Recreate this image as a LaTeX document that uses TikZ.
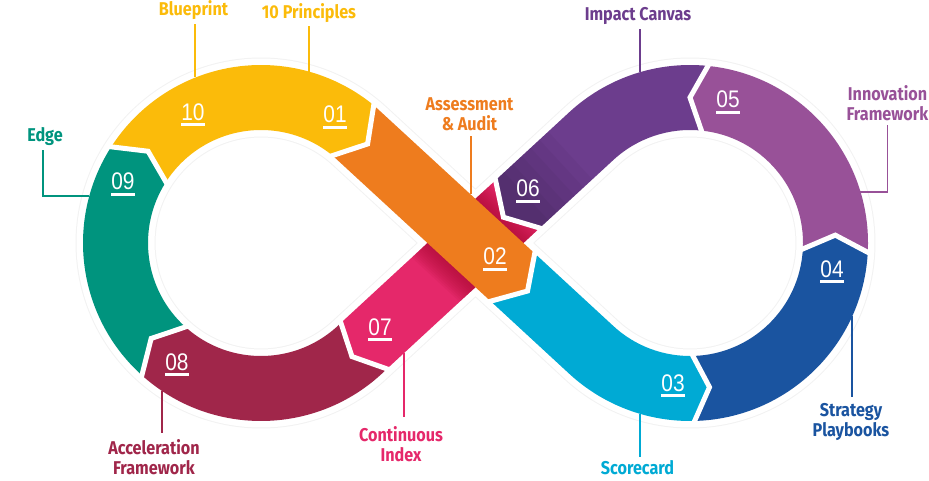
\documentclass[tikz,border=0pt]{standalone}
\usepackage{fontspec}
\setmainfont{Liberation Sans}
\newfontfamily\numfont[FakeStretch=0.87]{Liberation Sans}
\newfontfamily\lblfont[FakeStretch=0.875]{Fira Sans}
\usetikzlibrary{calc}
\definecolor{cYellow}{RGB}{251,187,10}
\definecolor{cOrange}{RGB}{238,124,30}
\definecolor{cCyan}{RGB}{0,170,212}
\definecolor{cBlue}{RGB}{26,84,160}
\definecolor{cLPurple}{RGB}{152,81,152}
\definecolor{cPurple}{RGB}{108,61,141}
\definecolor{cPink}{RGB}{229,40,106}
\definecolor{cMaroon}{RGB}{160,38,74}
\definecolor{cTeal}{RGB}{0,148,126}
\definecolor{cShadow}{RGB}{170,10,50}
\definecolor{cHalo}{RGB}{242,242,242}
\newcommand\numbox[1]{\vtop{\hbox{#1}\kern2.5pt\hrule height 3pt}}
\begin{document}
\begin{tikzpicture}[x=1pt,y=1pt,
  gap/.style={draw=white, line width=5pt, line cap=rect, line join=miter},
  numlbl/.style={text=white, font=\numfont\fontsize{24}{24}\selectfont, anchor=base, inner sep=0pt},
  lbl/.style={font=\lblfont\bfseries\fontsize{18.5}{20}\selectfont, align=center, inner sep=0pt},
  conn/.style={line width=1.8pt}]
\useasboundingbox (0,0) rectangle (929,480);
\coordinate (CL) at (261,237);
\coordinate (CR) at (690,237);
\coordinate (X) at (475.5,237);
% faint halo round the band
\draw[cHalo, line width=80pt, line join=round] ($(CL)+(47.29:145.5)$) arc[start angle=47.29, end angle=312.71, radius=145.5]
  -- ($(CR)+(132.71:145.5)$) arc[start angle=132.71, end angle=-132.71, radius=145.5] -- cycle;
\draw[white, line width=78pt, line join=round] ($(CL)+(47.29:145.5)$) arc[start angle=47.29, end angle=312.71, radius=145.5]
  -- ($(CR)+(132.71:145.5)$) arc[start angle=132.71, end angle=-132.71, radius=145.5] -- cycle;
% segment boundaries: L edge, tip, R edge
\coordinate (B0L) at ($(CL)+(50.7:178)$);
\coordinate (B0T) at ($(CL)+(42.9:145.5)$);
\coordinate (B0R) at ($(CL)+(50.7:113)$);
\coordinate (B1L) at ($(X)+(-42.71:50.6)+(47.29:32.5)$);
\coordinate (B1T) at ($(X)+(-42.71:70.8)$);
\coordinate (B1R) at ($(X)+(-42.71:50.6)+(227.29:32.5)$);
\coordinate (B2L) at ($(CR)+(271.5:113)$);
\coordinate (B2T) at ($(CR)+(277.7:145.5)$);
\coordinate (B2R) at ($(CR)+(271.5:178)$);
\coordinate (B3L) at ($(CR)+(-3:113)$);
\coordinate (B3T) at ($(CR)+(3.1:145.5)$);
\coordinate (B3R) at ($(CR)+(-3:178)$);
\coordinate (B4L) at ($(CR)+(84.2:113)$);
\coordinate (B4T) at ($(CR)+(90:145.5)$);
\coordinate (B4R) at ($(CR)+(84.2:178)$);
\coordinate (B5L) at ($(X)+(42.71:57.3)+(-47.29:32.5)$);
\coordinate (B5T) at ($(X)+(42.71:38)$);
\coordinate (B5R) at ($(X)+(42.71:57.3)+(132.71:32.5)$);
\coordinate (B6L) at ($(CL)+(-45:178)$);
\coordinate (B6T) at ($(CL)+(-51.3:145.5)$);
\coordinate (B6R) at ($(CL)+(-45:113)$);
\coordinate (B7L) at ($(CL)+(-132:178)$);
\coordinate (B7T) at ($(CL)+(-139:145.5)$);
\coordinate (B7R) at ($(CL)+(-132:113)$);
\coordinate (B8L) at ($(CL)+(147.3:178)$);
\coordinate (B8T) at ($(CL)+(140.9:145.5)$);
\coordinate (B8R) at ($(CL)+(147.3:113)$);
% segments
\fill[cYellow] (B8L) arc[start angle=147.3, end angle=50.7, radius=178] -- (B0T) -- (B0R)
  arc[start angle=50.7, end angle=147.3, radius=113] -- (B8T) -- cycle;
\fill[cCyan] (B1L) -- ($(CR)+(227.29:113)$) arc[start angle=227.29, end angle=271.5, radius=113]
  -- (B2T) -- (B2R) arc[start angle=271.5, end angle=227.29, radius=178] -- (B1R) -- (B1T) -- cycle;
\fill[cBlue] (B2L) arc[start angle=271.5, end angle=357, radius=113] -- (B3T) -- (B3R)
  arc[start angle=357, end angle=271.5, radius=178] -- (B2T) -- cycle;
\fill[cLPurple] (B3L) arc[start angle=-3, end angle=84.2, radius=113] -- (B4T) -- (B4R)
  arc[start angle=84.2, end angle=-3, radius=178] -- (B3T) -- cycle;
\fill[cPurple] (B4L) arc[start angle=84.2, end angle=132.71, radius=113] -- (B5L) -- (B5T) -- (B5R)
  -- ($(CR)+(132.71:178)$) arc[start angle=132.71, end angle=84.2, radius=178] -- (B4T) -- cycle;
\begin{scope}
  \clip (B4L) arc[start angle=84.2, end angle=132.71, radius=113] -- (B5L) -- (B5T) -- (B5R)
  -- ($(CR)+(132.71:178)$) arc[start angle=132.71, end angle=84.2, radius=178] -- (B4T) -- cycle;
  \begin{scope}[shift={(X)}, rotate=42.71]
    \foreach \d in {12,24,...,72} {
      \fill[black, opacity=0.035] (20,-60) rectangle (57+\d,60);
    }
  \end{scope}
\end{scope}
\fill[cTeal] (B7L) arc[start angle=-132, end angle=-212.7, radius=178] -- (B8T) -- (B8R)
  arc[start angle=-212.7, end angle=-132, radius=113] -- (B7T) -- cycle;
\fill[cMaroon] (B6L) arc[start angle=-45, end angle=-132, radius=178] -- (B7T) -- (B7R)
  arc[start angle=-132, end angle=-45, radius=113] -- (B6T) -- cycle;
\fill[cPink] (B5L) -- (B6L) -- (B6T) -- (B6R) -- (B5R) -- (B5T) -- cycle;
\begin{scope}
  \clip (B5L) -- (B6L) -- (B6T) -- (B6R) -- (B5R) -- (B5T) -- cycle;
  \begin{scope}[shift={(X)}, rotate=-42.71]
    \foreach \d in {2,4,...,22} {
      \fill[cShadow, opacity=0.09] (-140,32) rectangle (140,32+\d);
      \fill[cShadow, opacity=0.09] (-140,-32) rectangle (140,-32-\d);
    }
  \end{scope}
\end{scope}
\fill[cOrange] (B0L) -- (B1L) -- (B1T) -- (B1R) -- (B0R) -- (B0T) -- cycle;
% white gaps
\foreach \b in {0,...,8} { \draw[gap] (B\b L) -- (B\b T) -- (B\b R); }
% numbers
\node[numlbl] (n10) at (193,359.5) {\numbox{10}};
\node[numlbl] (n01) at (335,357) {\numbox{01}};
\node[numlbl] (n09) at (123,290) {\numbox{09}};
\node[numlbl] (n06) at (528,283) {\numbox{06}};
\node[numlbl] (n05) at (728,372) {\numbox{05}};
\node[numlbl] (n02) at (495,215) {\numbox{02}};
\node[numlbl] (n04) at (832,203) {\numbox{04}};
\node[numlbl] (n03) at (673,89) {\numbox{03}};
\node[numlbl] (n07) at (380,145) {\numbox{07}};
\node[numlbl] (n08) at (177,110) {\numbox{08}};
% labels
\node[lbl, text=cYellow] (lBlue) at (193.5,469.5) {Blueprint};
\node[lbl, text=cYellow] (lPrin) at (309,467) {10 Principles};
\node[lbl, text=cOrange] (lAss) at (469.5,366) {Assessment\\\& Audit};
\node[lbl, text=cPurple] (lImp) at (638,464) {Impact Canvas};
\node[lbl, text=cLPurple] (lInn) at (887.5,377) {Innovation\\Framework};
\node[lbl, text=cTeal] (lEdge) at (45,343) {Edge};
\node[lbl, text=cMaroon] (lAcc) at (154,23) {Acceleration\\Framework};
\node[lbl, text=cPink] (lCont) at (401,35.5) {Continuous\\Index};
\node[lbl, text=cCyan] (lScore) at (637.5,12.5) {Scorecard};
\node[lbl, text=cBlue] (lStrat) at (851,58) {Strategy\\Playbooks};
% connector ends on the band
\coordinate (aBlue) at (195,402.5);
\coordinate (aPrin) at (309,408);
\coordinate (aAss) at (470.7,285.7);
\coordinate (aImp) at (640,407.5);
\coordinate (aInn) at (860,288);
\coordinate (aEdge) at (89,284);
\coordinate (aAcc) at (162,89.5);
\coordinate (aCont) at (404,127);
\coordinate (aScore) at (640,66.5);
\coordinate (aStrat) at (852,164);
\draw[conn, cYellow, shorten >=4pt] (aBlue) -- (aBlue |- lBlue.south);
\draw[conn, cYellow, shorten >=3pt] (aPrin) -- (aPrin |- lPrin.south);
\draw[conn, cOrange, shorten >=5pt] (aAss) -- (aAss |- lAss.south);
\draw[conn, cPurple, shorten >=4pt] (aImp) -- (aImp |- lImp.south);
\draw[conn, cLPurple, shorten >=4pt] (aInn) -| (lInn.south);
\draw[conn, cTeal, shorten >=4pt] (aEdge) -| ([xshift=-2pt]lEdge.south);
\draw[conn, cMaroon, shorten >=6pt] (aAcc) -- (aAcc |- lAcc.north);
\draw[conn, cPink, shorten >=10pt] (aCont) -- (aCont |- lCont.north);
\draw[conn, cCyan, shorten >=3pt] (aScore) -- (aScore |- lScore.north);
\draw[conn, cBlue, shorten >=6pt] (aStrat) -- (aStrat |- lStrat.north);
\end{tikzpicture}
\end{document}
